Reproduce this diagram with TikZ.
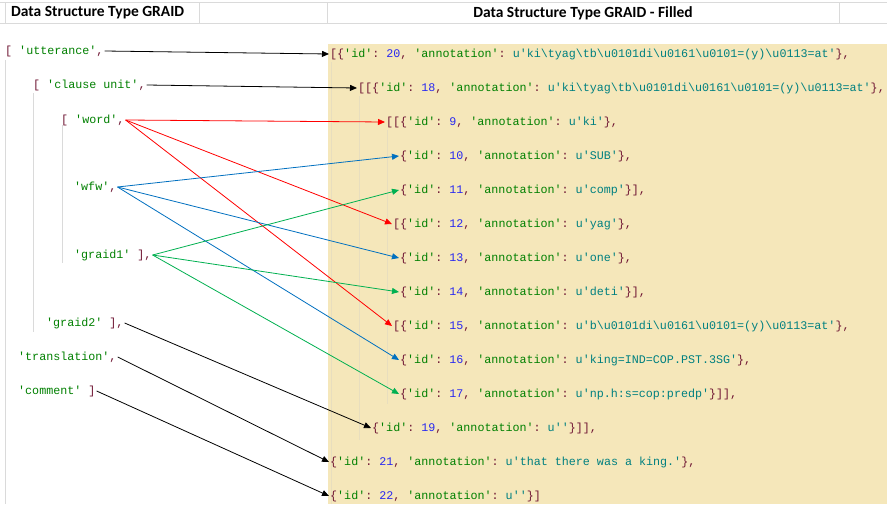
\documentclass[tikz,border=0pt]{standalone}
\usepackage{fontspec}
\setmonofont{Liberation Mono}
\newfontfamily\hdrfont{Carlito}
\usetikzlibrary{arrows.meta}

\definecolor{beige}{RGB}{245,231,186}
\definecolor{keygreen}{RGB}{0,128,0}
\definecolor{numblue}{RGB}{40,40,240}
\definecolor{unicyan}{RGB}{0,128,128}
\definecolor{brackred}{RGB}{110,20,50}
\definecolor{lnred}{RGB}{255,0,0}
\definecolor{lnblue}{RGB}{0,112,192}
\definecolor{lngreen}{RGB}{0,176,80}
\definecolor{gridgray}{RGB}{218,218,218}
\definecolor{guidetan}{RGB}{232,222,190}

\newcommand{\bs}{\textbackslash}
\newcommand{\pp}[1]{\textcolor{brackred}{#1}}
\newcommand{\qs}[1]{\textcolor{keygreen}{\textquotesingle#1\textquotesingle}}
\newcommand{\qu}[1]{\textcolor{unicyan}{u\textquotesingle#1\textquotesingle}}
\newcommand{\rec}[4]{\pp{#1}\qs{id}\pp{:} \textcolor{numblue}{#2}\pp{,} \qs{annotation}\pp{:} \qu{#3}\pp{#4}}

\begin{document}
\begin{tikzpicture}[x=1pt,y=-1pt,
  txt/.style={anchor=west,inner sep=1pt,font=\ttfamily\fontsize{11.7}{13}\selectfont,text height=8pt,text depth=2pt},
  hdr/.style={inner sep=0pt,font=\hdrfont\bfseries\fontsize{15.5}{17}\selectfont},
  lnk/.style={-{Triangle[length=7pt,width=6pt]},line width=0.8pt},
  grid/.style={draw=gridgray,line width=0.8pt},
  guide/.style={draw=gridgray,line width=0.6pt}]
\useasboundingbox (0,0) rectangle (887,504);
\fill[white] (0,0) rectangle (887,504);
\fill[beige] (328,44) rectangle (887,504);
\draw[grid] (0,2) -- (887,2) (0,23) -- (887,23);
\foreach \x in {5,199,327,839} \draw[grid] (\x,2) -- (\x,23);
\foreach \x/\a/\b in {5/60/504,33/93/332,62/125/263} \draw[guide] (\x,\a) -- (\x,\b);
\foreach \x/\a/\b in {331/62/504,359/96/440,387/130/404} \draw[guide,draw=guidetan] (\x,\a) -- (\x,\b);
\node[hdr,anchor=west] (h1) at (11,13) {Data Structure Type GRAID};
\node[hdr] (h2) at (583,13) {Data Structure Type GRAID - Filled};

\node[txt] (utt) at (4,51) {\pp{[} \qs{utterance}\pp{,}};
\node[txt] (cu) at (32,85) {\pp{[} \qs{clause unit}\pp{,}};
\node[txt] (word) at (60,120) {\pp{[} \qs{word}\pp{,}};
\node[txt] (wfw) at (73,187) {\qs{wfw}\pp{,}};
\node[txt] (g1) at (73,255) {\qs{graid1} \pp{],}};
\node[txt] (g2) at (45,323) {\qs{graid2} \pp{],}};
\node[txt] (trans) at (17,357) {\qs{translation}\pp{,}};
\node[txt] (com) at (17,391) {\qs{comment} \pp{]}};

\node[txt] (e20) at (329,54) {\rec{[\{}{20}{ki\bs tyag\bs tb\bs u0101di\bs u0161\bs u0101=(y)\bs u0113=at}{\},}};
\node[txt] (e18) at (357,88) {\rec{[[\{}{18}{ki\bs tyag\bs tb\bs u0101di\bs u0161\bs u0101=(y)\bs u0113=at}{\},}};
\node[txt] (e9) at (385,122) {\rec{[[\{}{9}{ki}{\},}};
\node[txt] (e10) at (399,156) {\rec{\{}{10}{SUB}{\},}};
\node[txt] (e11) at (399,190) {\rec{\{}{11}{comp}{\}],}};
\node[txt] (e12) at (392,224) {\rec{[\{}{12}{yag}{\},}};
\node[txt] (e13) at (399,258) {\rec{\{}{13}{one}{\},}};
\node[txt] (e14) at (399,292) {\rec{\{}{14}{deti}{\}],}};
\node[txt] (e15) at (392,326) {\rec{[\{}{15}{b\bs u0101di\bs u0161\bs u0101=(y)\bs u0113=at}{\},}};
\node[txt] (e16) at (399,360) {\rec{\{}{16}{king=IND=COP.PST.3SG}{\},}};
\node[txt] (e17) at (399,394) {\rec{\{}{17}{np.h:s=cop:predp}{\}]],}};
\node[txt] (e19) at (371,428) {\rec{\{}{19}{}{\}]],}};
\node[txt] (e21) at (329,462) {\rec{\{}{21}{that there was a king.}{\},}};
\node[txt] (e22) at (329,496) {\rec{\{}{22}{}{\}]}};

\draw[lnk] (utt.east) -- (e20.west);
\draw[lnk] (cu.east) -- (e18.west);
\foreach \t in {e9,e12,e15} \draw[lnk,lnred] (word.east) -- (\t.west);
\foreach \t in {e10,e13,e16} \draw[lnk,lnblue] (wfw.east) -- (\t.west);
\foreach \t in {e11,e14,e17} \draw[lnk,lngreen] (g1.east) -- (\t.west);
\draw[lnk] (g2.east) -- (e19.west);
\draw[lnk] (trans.east) -- (e21.west);
\draw[lnk] (com.east) -- (e22.west);
\end{tikzpicture}
\end{document}
